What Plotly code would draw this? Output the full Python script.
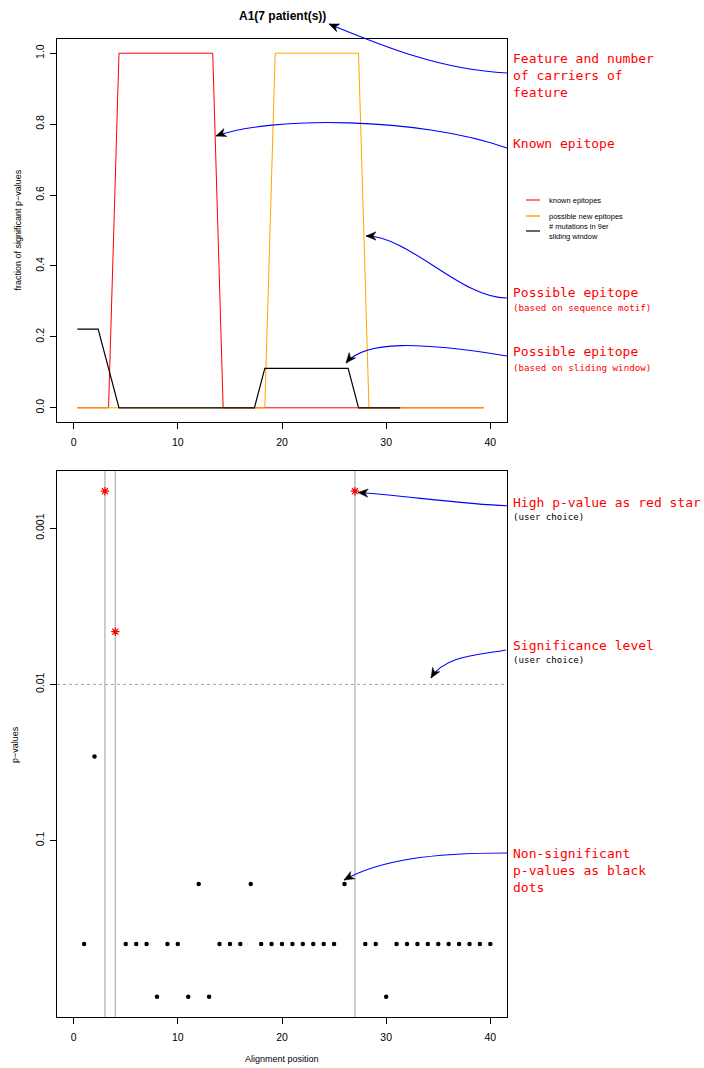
import math
import plotly.graph_objects as go

# ---------------- data ----------------
# top panel: fraction of significant p-values along alignment windows
window_positions = [k + 0.35 for k in range(40)]
known_epitopes = [0, 0, 0, 0, 1, 1, 1, 1, 1, 1, 1, 1, 1, 1, 0, 0, 0, 0, 0, 0,
                  0, 0, 0, 0, 0, 0, 0, 0, 0, 0, 0, 0, 0, 0, 0, 0, 0, 0, 0, 0]
new_epitopes = [0, 0, 0, 0, 0, 0, 0, 0, 0, 0, 0, 0, 0, 0, 0, 0, 0, 0, 0, 1,
                1, 1, 1, 1, 1, 1, 1, 1, 0, 0, 0, 0, 0, 0, 0, 0, 0, 0, 0, 0]
mutations_window = [0.222, 0.222, 0.222, 0.111, 0, 0, 0, 0, 0, 0, 0, 0, 0, 0, 0, 0,
                    0, 0, 0.111, 0.111, 0.111, 0.111, 0.111, 0.111, 0.111, 0.111, 0.111,
                    0, 0, 0, 0, 0]

# bottom panel: p-values per alignment position
alignment_positions = list(range(1, 41))
p_values = [0.46, 0.029, 0.00058, 0.0046, 0.46, 0.46, 0.46, 1.0, 0.46, 0.46,
            1.0, 0.19, 1.0, 0.46, 0.46, 0.46, 0.19, 0.46, 0.46, 0.46,
            0.46, 0.46, 0.46, 0.46, 0.46, 0.19, 0.00058, 0.46, 0.46, 1.0,
            0.46, 0.46, 0.46, 0.46, 0.46, 0.46, 0.46, 0.46, 0.46, 0.46]
significance_level = 0.01

title_text = "A1(7 patient(s))"
x_ticks = [0, 10, 20, 30, 40]
top_y_ticks = [0.0, 0.2, 0.4, 0.6, 0.8, 1.0]
top_y_labels = ["0.0", "0.2", "0.4", "0.6", "0.8", "1.0"]
bottom_y_ticks = [0.001, 0.01, 0.1]
bottom_y_labels = ["0.001", "0.01", "0.1"]

# ---------------- layout helpers ----------------
W, H = 704, 1068


def px(x):
    return x / W


def py(y):
    return 1 - y / H


SANS = "Liberation Sans, Arial, sans-serif"
MONO = "DejaVu Sans Mono, monospace"

sig_x = [x for x, p in zip(alignment_positions, p_values) if p < significance_level]
sig_p = [p for p in p_values if p < significance_level]
ns_x = [x for x, p in zip(alignment_positions, p_values) if p >= significance_level]
ns_p = [p for p in p_values if p >= significance_level]

fig = go.Figure()

fig.add_trace(go.Scatter(x=window_positions, y=known_epitopes, mode="lines",
                         line=dict(color="#FF0000", width=1), xaxis="x", yaxis="y",
                         name="known epitopes"))
fig.add_trace(go.Scatter(x=window_positions, y=new_epitopes, mode="lines",
                         line=dict(color="#FFA500", width=1), xaxis="x", yaxis="y",
                         name="possible new epitopes"))
fig.add_trace(go.Scatter(x=window_positions[:len(mutations_window)], y=mutations_window,
                         mode="lines", line=dict(color="black", width=1.2),
                         xaxis="x", yaxis="y", name="# mutations"))

fig.add_trace(go.Scatter(x=ns_x, y=ns_p, mode="markers",
                         marker=dict(color="black", size=4.5, symbol="circle"),
                         xaxis="x2", yaxis="y2"))
fig.add_trace(go.Scatter(x=sig_x, y=sig_p, mode="markers",
                         marker=dict(symbol="asterisk-open", size=7, color="#FF0000",
                                     line=dict(color="#FF0000", width=1.2)),
                         xaxis="x2", yaxis="y2"))

shapes = []
# vertical grey lines at significant positions
for x in sig_x:
    shapes.append(dict(type="line", xref="x2", yref="y2 domain", x0=x, x1=x, y0=0, y1=1,
                       line=dict(color="#BEBEBE", width=1.5), layer="below"))
# significance level
shapes.append(dict(type="line", xref="x2 domain", yref="y2", x0=0, x1=1,
                   y0=significance_level, y1=significance_level,
                   line=dict(color="#A0A0A0", width=1, dash="3px,3px"), layer="below"))

# manual legend
legend_items = [("#FF6E6E", 200, "known epitopes"),
                ("#FFB43C", 216, "possible new epitopes"),
                ("#555555", 231, "# mutations in 9er<br>sliding window")]
annotations = []
for col, yy, label in legend_items:
    shapes.append(dict(type="line", xref="paper", yref="paper", x0=px(526), x1=px(540),
                       y0=py(yy), y1=py(yy), line=dict(color=col, width=1.8)))
    annotations.append(dict(x=px(547), y=py(yy), xref="paper", yref="paper",
                            text=label, showarrow=False, xanchor="left", yanchor="middle",
                            align="left", font=dict(family=SANS, size=7.5, color="black")))

# curved explanatory arrows: (tip, control1, control2, end)
curves = [
    ((329, 24), (380, 45), (440, 70), (507, 73)),
    ((216, 136), (270, 116), (420, 117), (507, 148)),
    ((366, 236), (410, 236), (460, 298), (507, 298)),
    ((346, 363), (365, 340), (420, 342), (507, 356)),
    ((358, 492.5), (400, 495), (460, 504), (507, 505.7)),
    ((431, 678), (445, 655), (480, 655), (506, 650)),
    ((344, 880), (380, 860), (430, 853), (507, 853)),
]
for p0, p1, p2, p3 in curves:
    path = (f"M {px(p3[0])},{py(p3[1])} C {px(p2[0])},{py(p2[1])} "
            f"{px(p1[0])},{py(p1[1])} {px(p0[0])},{py(p0[1])}")
    shapes.append(dict(type="path", xref="paper", yref="paper", path=path,
                       line=dict(color="#0000FF", width=1.1)))
for p0, p1, p2, p3 in curves:
    dx, dy = p0[0] - p1[0], p0[1] - p1[1]
    n = math.hypot(dx, dy)
    dx, dy = dx / n, dy / n
    nx, ny = -dy, dx
    L, Wd, notch = 10, 4.2, 3
    a = (p0[0] - L * dx + Wd * nx, p0[1] - L * dy + Wd * ny)
    b = (p0[0] - (L - notch) * dx, p0[1] - (L - notch) * dy)
    c = (p0[0] - L * dx - Wd * nx, p0[1] - L * dy - Wd * ny)
    path = (f"M {px(p0[0])},{py(p0[1])} L {px(a[0])},{py(a[1])} L {px(b[0])},{py(b[1])} "
            f"L {px(c[0])},{py(c[1])} Z")
    shapes.append(dict(type="path", xref="paper", yref="paper", path=path,
                       line=dict(color="black", width=0.5), fillcolor="black"))

# titles
annotations += [
    dict(x=px(282), y=py(16), text="<b>" + title_text + "</b>", showarrow=False,
         xref="paper", yref="paper", xanchor="center", yanchor="middle",
         font=dict(family=SANS, size=12, color="black")),
    dict(x=px(18), y=py(230.5), text="fraction of significant p\u2212values", showarrow=False,
         xref="paper", yref="paper", textangle=-90, xanchor="center", yanchor="middle",
         font=dict(family=SANS, size=9, color="black")),
    dict(x=px(15), y=py(744), text="p\u2212values", showarrow=False,
         xref="paper", yref="paper", textangle=-90, xanchor="center", yanchor="middle",
         font=dict(family=SANS, size=9, color="black")),
    dict(x=px(282), y=py(1059), text="Alignment position", showarrow=False,
         xref="paper", yref="paper", xanchor="center", yanchor="middle",
         font=dict(family=SANS, size=9, color="black")),
]

# right-side explanatory texts
notes = [
    (75.7, "Feature and number<br>of carriers of<br>feature", 13, "#FF0000"),
    (143.3, "Known epitope", 13, "#FF0000"),
    (293, "Possible epitope", 13, "#FF0000"),
    (307.7, "(based on sequence motif)", 9.2, "#FF0000"),
    (352, "Possible epitope", 13, "#FF0000"),
    (367, "(based on sliding window)", 9.2, "#FF0000"),
    (502.3, "High p-value as red star", 13, "#FF0000"),
    (516.7, "(user choice)", 9.1, "black"),
    (645.7, "Significance level", 13, "#FF0000"),
    (660, "(user choice)", 9.1, "black"),
    (870, "Non-significant<br>p-values as black<br>dots", 13, "#FF0000"),
]
for yy, txt, sz, col in notes:
    annotations.append(dict(x=px(511), y=py(yy), xref="paper", yref="paper", text=txt,
                            showarrow=False, xanchor="left", yanchor="middle", align="left",
                            font=dict(family=MONO, size=sz, color=col)))

axis_common = dict(showline=True, mirror=True, linecolor="black", linewidth=1,
                   ticks="outside", ticklen=6, tickcolor="black", tickwidth=1,
                   showgrid=False, zeroline=False, automargin=False,
                   tickfont=dict(family=SANS, size=10.5, color="black"))

lo = math.log10(min(p_values))
hi = math.log10(max(p_values))
pad = 0.04 * (hi - lo)

fig.update_layout(
    width=W, height=H, margin=dict(l=0, r=0, t=0, b=0),
    plot_bgcolor="white", paper_bgcolor="white", showlegend=False,
    xaxis=dict(domain=[px(57), px(507)], anchor="y", range=[-1.6, 41.6],
               tickvals=x_ticks, ticklabelstandoff=4, **axis_common),
    yaxis=dict(domain=[py(422), py(39)], anchor="x", range=[-0.04, 1.04],
               tickvals=top_y_ticks, ticktext=top_y_labels, tickangle=-90,
               ticklabelstandoff=2, **axis_common),
    xaxis2=dict(domain=[px(57), px(507)], anchor="y2", range=[-1.6, 41.6],
                tickvals=x_ticks, ticklabelstandoff=4, **axis_common),
    yaxis2=dict(domain=[py(1017), py(471)], anchor="x2", type="log",
                range=[hi + pad, lo - pad], tickvals=bottom_y_ticks,
                ticktext=bottom_y_labels, tickangle=-90, ticklabelstandoff=2, **axis_common),
    shapes=shapes, annotations=annotations,
)

fig.write_html("out.html", config={"displayModeBar": False},
               post_script="document.body.style.margin='0';document.body.style.overflow='hidden';")
